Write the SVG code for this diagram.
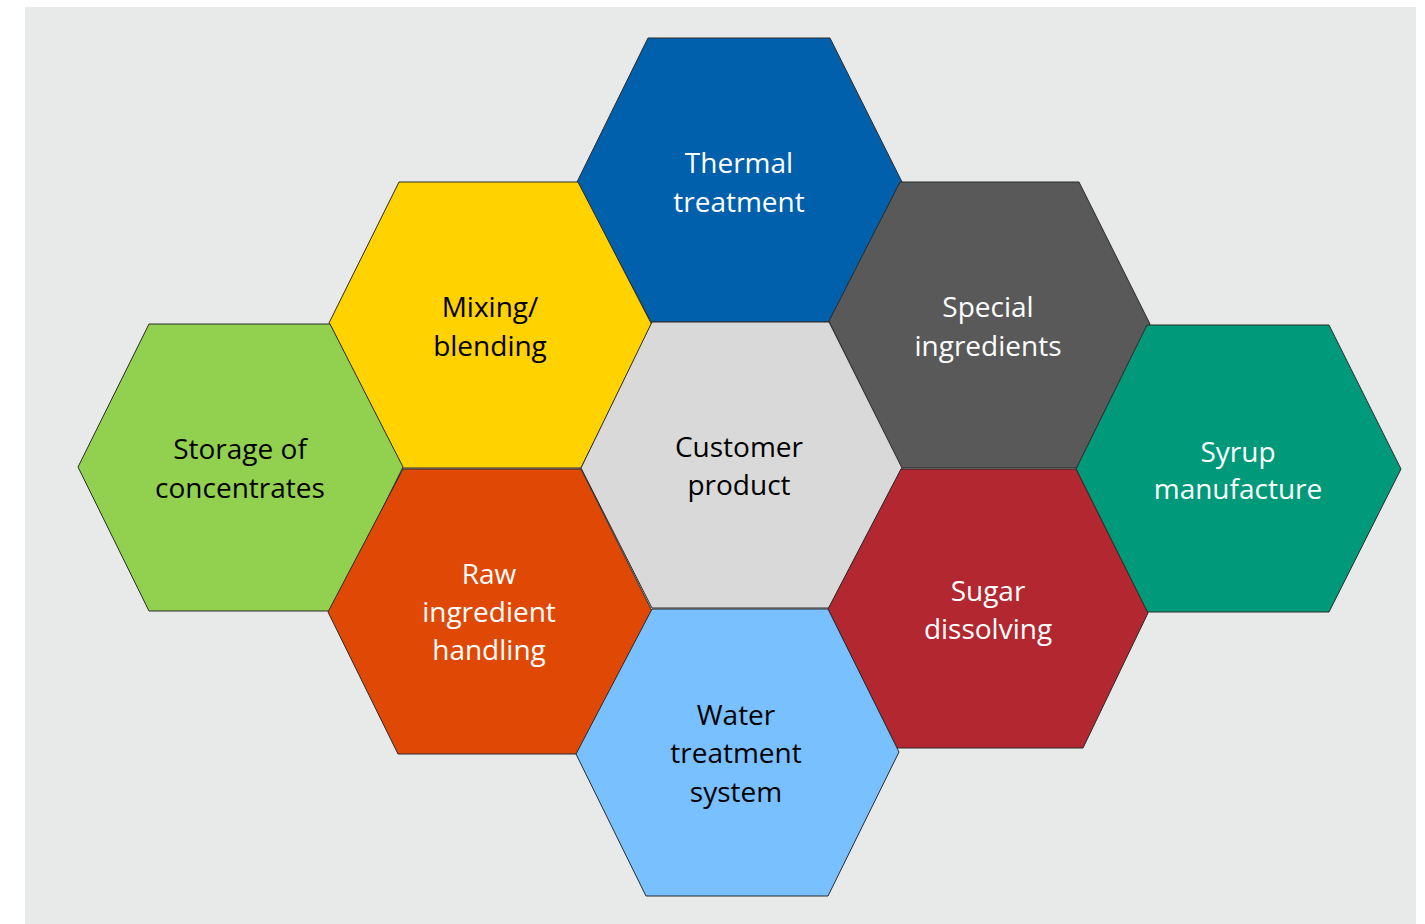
<svg xmlns="http://www.w3.org/2000/svg" width="1425" height="924" viewBox="0 0 1425 924">
<style>
.hex{stroke:#2a2a2a;stroke-width:1}
.t{font-family:"Open Sans","Liberation Sans",sans-serif;font-size:28px;text-anchor:middle}
.w{fill:#ffffff}
.k{fill:#000000}
</style>
<rect x="0" y="0" width="1425" height="924" fill="#ffffff"/>
<rect x="25" y="7" width="1391" height="917" fill="#E8EAE9"/>
<g id="connectors"></g>
<g id="thermal">
<polygon class="hex" fill="#0060AC" points="648,38 830,38 902,182 830,322 651,322 577,182"/>
<text class="t w" x="739" y="173">Thermal</text>
<text class="t w" x="739" y="212">treatment</text>
</g>
<g id="mixing">
<polygon class="hex" fill="#FFD200" points="399,182 578,182 652,325 581,468 402,468 329,323"/>
<text class="t k" x="490" y="317">Mixing/</text>
<text class="t k" x="490" y="356">blending</text>
</g>
<g id="special">
<polygon class="hex" fill="#595959" points="900,182 1079,182 1150,324 1077,468 901,468 829,321"/>
<text class="t w" x="988" y="317">Special</text>
<text class="t w" x="988" y="356">ingredients</text>
</g>
<g id="storage">
<polygon class="hex" fill="#92D050" points="149,324 330,324 403,467 332,611 149,611 78,467"/>
<text class="t k" x="240" y="459">Storage of</text>
<text class="t k" x="240" y="498">concentrates</text>
</g>
<g id="customer">
<polygon class="hex" fill="#D9D9D9" points="652,322 829,322 902,468 829,608 652,608 581,468"/>
<text class="t k" x="739" y="457">Customer</text>
<text class="t k" x="739" y="495">product</text>
</g>
<g id="syrup">
<polygon class="hex" fill="#009A7A" points="1147,325 1329,325 1401,469 1329,612 1147,612 1076,469"/>
<text class="t w" x="1238" y="462">Syrup</text>
<text class="t w" x="1238" y="499">manufacture</text>
</g>
<g id="raw">
<polygon class="hex" fill="#E04806" points="403,469 581,469 652,611 582,754 398,754 328,612"/>
<text class="t w" x="489" y="584">Raw</text>
<text class="t w" x="489" y="622">ingredient</text>
<text class="t w" x="489" y="660">handling</text>
</g>
<g id="sugar">
<polygon class="hex" fill="#B22730" points="901,469 1076,469 1148,613 1083,748 897,748 828,609"/>
<text class="t w" x="988" y="601">Sugar</text>
<text class="t w" x="988" y="639">dissolving</text>
</g>
<g id="water">
<polygon class="hex" fill="#78C0FF" points="652,609 828,609 899,752 828,896 646,896 576,754"/>
<text class="t k" x="736" y="725">Water</text>
<text class="t k" x="736" y="763">treatment</text>
<text class="t k" x="736" y="802">system</text>
</g>
</svg>
